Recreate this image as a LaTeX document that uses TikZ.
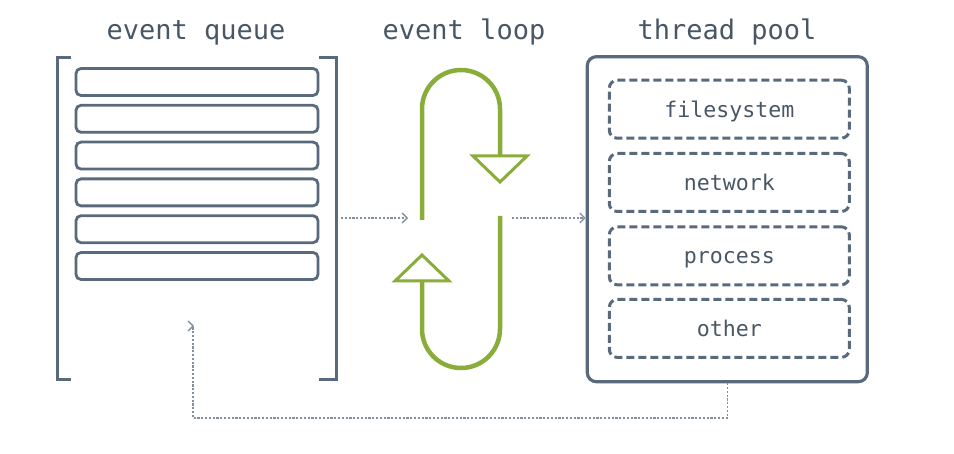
\documentclass[tikz,border=0pt]{standalone}
\usepackage{fontspec}
\newfontfamily\monofont{DejaVu Sans Mono}
\usetikzlibrary{arrows.meta}
\definecolor{slate}{RGB}{88,106,124}
\definecolor{txt}{RGB}{72,87,102}
\definecolor{dots}{RGB}{130,144,158}
\definecolor{leaf}{RGB}{138,172,58}
\tikzset{
  x=1pt,y=-1pt,
  title/.style={anchor=base,text=txt,font=\monofont\fontsize{27}{30}\selectfont,inner sep=0pt},
  bar/.style={draw=slate,line width=2.8pt,rounded corners=5pt,minimum width=242pt,minimum height=27pt,inner sep=0pt},
  worker/.style={draw=slate,line width=3pt,dash pattern=on 8pt off 4pt,rounded corners=8pt,minimum width=240pt,minimum height=58pt,inner sep=0pt,
    text=txt,font=\monofont\fontsize{21.6}{24}\selectfont,text height=16pt,text depth=0pt},
  poolbox/.style={draw=slate,line width=3.2pt,rounded corners=9pt,minimum width=280pt,minimum height=325pt,inner sep=0pt},
  brack/.style={draw=slate,line width=3pt},
  greenline/.style={draw=leaf,line width=4.5pt},
  greentip/.style={draw=leaf,line width=3pt,fill=white,line join=miter},
  flow/.style={draw=dots,line width=1.3pt,dash pattern=on 2.2pt off 1.6pt,-{Straight Barb[length=5pt,width=10pt,line width=1.3pt]}},
}
\begin{document}
\begin{tikzpicture}
\useasboundingbox (0,0) rectangle (954,454);
% titles
\node[title] (tq) at (196,39.5) {event queue};
\node[title] (tl) at (464,39.5) {event loop};
\node[title] (tp) at (727,39.5) {thread pool};
% queue brackets
\draw[brack] (71,58) -- (57,58) -- (57,380) -- (71,380);
\draw[brack] (319,58) -- (336,58) -- (336,380) -- (319,380);
\coordinate (qout) at (341,218);
% queue bars
\foreach \i in {0,...,5}{
  \node[bar] (q\i) at (197,{82+36.8*\i}) {};
}
% event loop
\coordinate (lin) at (408,218);
\coordinate (lout) at (512,218);
\draw[greenline] (422,220) -- (422,109) arc[start angle=180,end angle=360,radius=39] -- (500,158);
\draw[greentip] (473,156) -- (527,156) -- (500,182) -- cycle;
\draw[greenline] (500,216) -- (500,329) arc[start angle=0,end angle=180,radius=39] -- (422,279);
\draw[greentip] (395,281) -- (449,281) -- (422,255) -- cycle;
% thread pool
\node[poolbox] (pool) at (727.3,219.2) {};
\node[worker] (w1) at (729.3,109.2) {filesystem};
\node[worker] (w2) at (729.3,182.5) {network};
\node[worker] (w3) at (729.3,255.8) {process};
\node[worker] (w4) at (729.3,328.4) {other};
% flows
\draw[flow] (qout) -- (lin);
\draw[flow] (lout) -- (lout -| pool.west);
\coordinate (ret) at (193,326);
\draw[flow] (pool.south) -- (727.3,418) -| (ret) -- ++(1,0);
\end{tikzpicture}
\end{document}
